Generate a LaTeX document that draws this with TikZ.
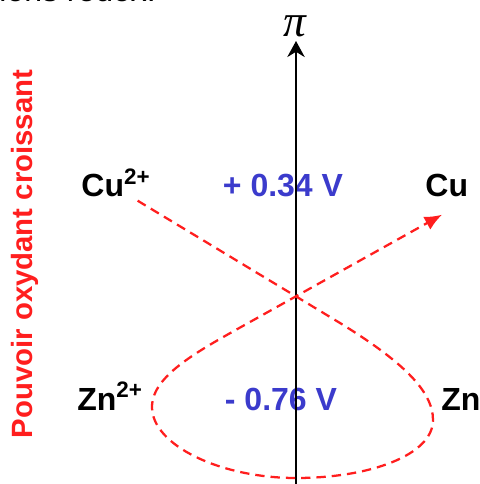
\documentclass[tikz,border=0pt]{standalone}
\usepackage{xcolor}
\usepackage{fontspec}
\setmainfont{Liberation Sans}
\newfontfamily\pifont{Liberation Serif}
\usepackage{tikz}
\usetikzlibrary{arrows.meta, positioning}

\definecolor{potblue}{RGB}{59,59,204}
\definecolor{oxred}{RGB}{255,30,30}

\begin{document}
\begin{tikzpicture}[x=0.75pt, y=-0.75pt, >={Stealth[length=12pt, width=13pt]}, semithick]
		\tikzstyle{species}=[inner sep=0pt, anchor=base west, font=\fontsize{24}{28}\selectfont\bfseries]
		\tikzstyle{potential}=[inner sep=0pt, anchor=base, text=potblue, font=\fontsize{24}{28}\selectfont\bfseries]
		\tikzstyle{gamma}=[draw=oxred, line width=1.7pt, dash pattern=on 7pt off 4.5pt]

		\useasboundingbox (0,0) rectangle (479,484);

		% cut-off line of text above the figure
		\node[inner sep=0pt, anchor=base west, font=\fontsize{24}{28}\selectfont] (caption) at (-1,2) {ions redox.};

		\node[species] (Cu2) at (81,197) {Cu\textsuperscript{2+}};
		\node[species] (Cu) at (425,197) {Cu};
		\node[species] (Zn2) at (77,410) {Zn\textsuperscript{2+}};
		\node[species] (Zn) at (441,410) {Zn};

		\node[potential] (E1) at (283,197) {+ 0.34 V};
		\node[potential] (E2) at (281,410) {- 0.76 V};

		\node[rotate=90, text=oxred, font=\fontsize{22}{26}\selectfont\bfseries] (oxlabel) at (25,254) {Pouvoir oxydant croissant};

		% potential axis
		\node[inner sep=0pt, anchor=base, font=\pifont\fontsize{34}{38}\selectfont\itshape] (pi) at (295,37) {π};
		\coordinate (axisfoot) at (296,486);
		\coordinate (axistop) at (296,41);
		\draw[->, line width=2.1pt] (axisfoot) -- (axistop);

		% gamma rule
		\coordinate (start) at ([shift={(-13,3)}]Cu2.south east);
		\coordinate (end) at ([shift={(17,17)}]Cu.south west);
		\draw[gamma, ->, >={Latex[length=13pt, width=11pt]}] (start) -- (340,323)
			.. controls (400,360) and (433,390) .. (433,420)
			.. controls (433,455) and (370,478) .. (296,478)
			.. controls (220,478) and (152,445) .. (152,407)
			.. controls (152,375) and (200,350) .. (250,322) -- (end);
	\end{tikzpicture}
\end{document}
